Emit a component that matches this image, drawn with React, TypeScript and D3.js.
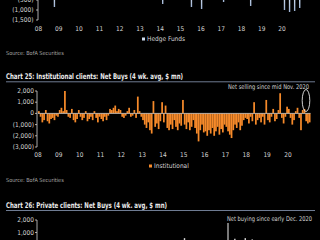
import React from 'react';
import * as d3 from 'd3';

// ---------- data ----------
const yearLabels = ['08', '09', '10', '11', '12', '13', '14', '15', '16', '17', '18', '19', '20'];

// Chart 24 (partial, only the deepest hedge-fund dips reach into view)
const hedgeDates = ['2008-10', '2014-02', '2015-07', '2016-01', '2017-02', '2018-06', '2020-02', '2020-05', '2020-08', '2020-11'];
const hedgeValues = [-850, -700, -850, -950, -600, -800, -1000, -1100, -1050, -900];
const hedgeTicks = [-500, -1000, -1500];

// Chart 25: institutional net buys, monthly from Jan 2008
const instStartYear = 2008;
const institutional = [
  // 2008
  200, -300, -800, -600, 300, -700, -900, -500, -400, -600, -200, -300,
  // 2009
  300, 500, 200, 2000, 300, -300, -400, 400, -600, -800, -500, 300,
  // 2010
  -300, -600, -400, 200, -700, -500, -300, -600, 200, -400, -800, -300,
  // 2011
  -500, -700, -300, -600, -200, 400, 300, 500, 700, 200, 400, 300,
  // 2012
  -300, -400, -200, 200, 500, -300, -200, 300, -400, 1500, 200, -300,
  // 2013
  -600, -1000, -1300, -800, -1500, -1800, 1100, -1200, -900, -1400, -700, 1000,
  // 2014
  -800, 700, -1300, -1500, -1000, -1400, -600, -1200, -1500, -900, -1100, 1200,
  // 2015
  -1000, -1400, -800, -1500, -1200, -600, -1300, -1800, -2500, -1500, -1000, -1700,
  // 2016
  -1600, -2000, -1500, -1800, -1300, -2000, -1600, -1200, -1900, -1400, -1700, -1000,
  // 2017
  -1200, -1600, -1900, -2200, -1500, -1000, -1300, -800, -1500, -1100, -600, -400,
  // 2018
  -500, -900, -300, -700, 1000, -1000, -600, -400, -800, -300, -1000, 1200,
  // 2019
  -600, -800, -300, 400, -700, -500, 300, 1800, -400, -900, -300, 600,
  // 2020
  400, -400, -1000, -600, 200, 500, -400, -1500, 300, 400, -700, -900,
  // 2021
  -800,
];
const instTicks = [2000, 1000, 0, -1000, -2000, -3000];

// Chart 26 (partial): private clients
const privateDates = ['2015-01', '2017-06', '2017-12', '2018-04'];
const privateValues = [550, 500, 550, 450];
const privateTicks = [2000, 1000];

// ---------- helpers ----------
const FONT = "'Liberation Sans Narrow', 'DejaVu Sans Condensed', 'Arial Narrow', sans-serif";
const TITLE_FONT = "'Liberation Sans Narrow', 'DejaVu Sans Condensed', sans-serif";
const ORANGE = '#f68a2a';
const HEDGE = '#cfdcee';
const LABEL = '#d4d4d4';
const fmt = d3.format(',');
const tickText = (v: number) => (v < 0 ? `(${fmt(-v)})` : fmt(v));
const toYear = (s: string) => {
  const [y, m] = s.split('-').map(Number);
  return y + (m - 1) / 12;
};

export default function App() {
  // scales
  const x24 = d3.scaleLinear().domain([2008, 2021]).range([38.5, 38.5 + 13 * 20.3]);
  const y24 = d3.scaleLinear().domain([-1500, -500]).range([20, 0]);

  const x25 = d3.scaleLinear().domain([2008, 2021]).range([38, 38 + 13 * 20.83]);
  const y25 = d3.scaleLinear().domain([-3000, 2000]).range([147, 91]);
  const bw = x25(2008 + 1 / 12) - x25(2008);

  const x26 = x25;
  const y26 = d3.scaleLinear().domain([0, 2000]).range([245, 220]);

  const hedge = hedgeDates.map((d, i) => ({ t: toYear(d), v: hedgeValues[i] }));
  const inst = institutional.map((v, i) => ({ t: instStartYear + i / 12, v }));
  const priv = privateDates.map((d, i) => ({ t: toYear(d), v: privateValues[i] }));

  const years = yearLabels.map((l, i) => ({ l, t: 2008 + i }));

  return (
    <svg
      width={320}
      height={240}
      style={{ position: 'fixed', left: 0, top: 0, background: '#000' }}
      fontFamily={FONT}
    >
      <rect x={0} y={0} width={320} height={240} fill="#000" />

      {/* ---------- Chart 24 (bottom part) ---------- */}
      <defs>
        <linearGradient id="hg" x1="0" y1="0" x2="0" y2="1">
          <stop offset="0" stopColor="#e8f0fa" />
          <stop offset="1" stopColor="#9fb4d4" />
        </linearGradient>
      </defs>
      {hedge.map((d, i) => (
        <rect
          key={i}
          x={x24(d.t)}
          y={y24(0)}
          width={1.4}
          height={y24(d.v) - y24(0)}
          fill="url(#hg)"
        />
      ))}
      <line x1={x24(2008) - 0.5} x2={x24(2008) - 0.5} y1={-5} y2={y24(-1500)} stroke={LABEL} strokeWidth={0.8} />
      {hedgeTicks.map((t) => (
        <g key={t}>
          <line x1={x24(2008) - 2.5} x2={x24(2008) - 0.5} y1={y24(t)} y2={y24(t)} stroke={LABEL} strokeWidth={0.8} />
          <text x={x24(2008) - 5} y={y24(t)} fontSize={6.5} fill={LABEL} textAnchor="end" dominantBaseline="central">
            {tickText(t)}
          </text>
        </g>
      ))}
      {years.map((d) => (
        <text key={d.l} x={x24(d.t)} y={29} fontSize={6.5} fill={LABEL} textAnchor="middle" dominantBaseline="central">
          {d.l}
        </text>
      ))}
      <rect x={142} y={37.5} width={3} height={3} fill={HEDGE} />
      <text x={147} y={39} fontSize={6.5} fill={LABEL} dominantBaseline="central">Hedge Funds</text>
      <text x={6} y={53} fontSize={5.5} fill="#a8a8a8" dominantBaseline="central">Source: BofA Securities</text>

      {/* ---------- Chart 25 ---------- */}
      <text x={6} y={79} fontSize={7.8} fontWeight="bold" fill="#ececec" fontFamily={TITLE_FONT} textLength={177} lengthAdjust="spacingAndGlyphs">
        Chart 25: Institutional clients: Net Buys (4 wk. avg, $ mn)
      </text>
      <line x1={6} x2={315} y1={81.8} y2={81.8} stroke="#6e7b92" strokeWidth={1} />
      <text x={309} y={87} fontSize={6.5} fill={LABEL} textAnchor="end" dominantBaseline="central" textLength={81} lengthAdjust="spacingAndGlyphs">
        Net selling since mid Nov. 2020
      </text>

      {inst.map((d, i) => (
        <rect
          key={i}
          x={x25(d.t)}
          y={Math.min(y25(d.v), y25(0))}
          width={bw}
          height={Math.abs(y25(d.v) - y25(0))}
          fill={ORANGE}
        />
      ))}
      <line x1={x25(2008)} x2={x25(2021) + bw} y1={y25(0)} y2={y25(0)} stroke="#c8c8c8" strokeWidth={0.8} />
      <ellipse cx={306} cy={100.5} rx={3.8} ry={11} fill="none" stroke="#e6e6e6" strokeWidth={0.9} />

      <line x1={x25(2008) - 1} x2={x25(2008) - 1} y1={y25(2000)} y2={y25(-3000)} stroke={LABEL} strokeWidth={0.8} />
      {instTicks.map((t) => (
        <g key={t}>
          <line x1={x25(2008) - 3} x2={x25(2008) - 1} y1={y25(t)} y2={y25(t)} stroke={LABEL} strokeWidth={0.8} />
          <text x={x25(2008) - 4} y={y25(t)} fontSize={6.5} fill={LABEL} textAnchor="end" dominantBaseline="central">
            {tickText(t)}
          </text>
        </g>
      ))}
      {years.map((d) => (
        <text key={d.l} x={x25(d.t)} y={155} fontSize={6.5} fill={LABEL} textAnchor="middle" dominantBaseline="central">
          {d.l}
        </text>
      ))}
      <rect x={149} y={164.5} width={3} height={3} fill={ORANGE} />
      <text x={154} y={166} fontSize={6.5} fill={LABEL} dominantBaseline="central">Institutional</text>
      <text x={6} y={180} fontSize={5.5} fill="#a8a8a8" dominantBaseline="central">Source: BofA Securities</text>

      {/* ---------- Chart 26 (top part) ---------- */}
      <text x={6} y={208} fontSize={7.8} fontWeight="bold" fill="#ececec" fontFamily={TITLE_FONT} textLength={161} lengthAdjust="spacingAndGlyphs">
        Chart 26: Private clients: Net Buys (4 wk. avg, $ mn)
      </text>
      <line x1={6} x2={315} y1={210.5} y2={210.5} stroke="#6e7b92" strokeWidth={1} />
      <text x={312} y={219} fontSize={6.5} fill={LABEL} textAnchor="end" dominantBaseline="central" textLength={85} lengthAdjust="spacingAndGlyphs">
        Net buying since early Dec. 2020
      </text>
      <line x1={228} x2={228} y1={223} y2={241} stroke="#f0f0f0" strokeWidth={1} />
      {priv.map((d, i) => (
        <rect
          key={i}
          x={x26(d.t)}
          y={y26(d.v)}
          width={1.4}
          height={y26(0) - y26(d.v)}
          fill="#d8d8d8"
        />
      ))}
      <line x1={x26(2008) - 1} x2={x26(2008) - 1} y1={y26(2000)} y2={245} stroke={LABEL} strokeWidth={0.8} />
      {privateTicks.map((t) => (
        <g key={t}>
          <line x1={x26(2008) - 3} x2={x26(2008) - 1} y1={y26(t)} y2={y26(t)} stroke={LABEL} strokeWidth={0.8} />
          <text x={x26(2008) - 4} y={y26(t)} fontSize={6.5} fill={LABEL} textAnchor="end" dominantBaseline="central">
            {tickText(t)}
          </text>
        </g>
      ))}
    </svg>
  );
}
